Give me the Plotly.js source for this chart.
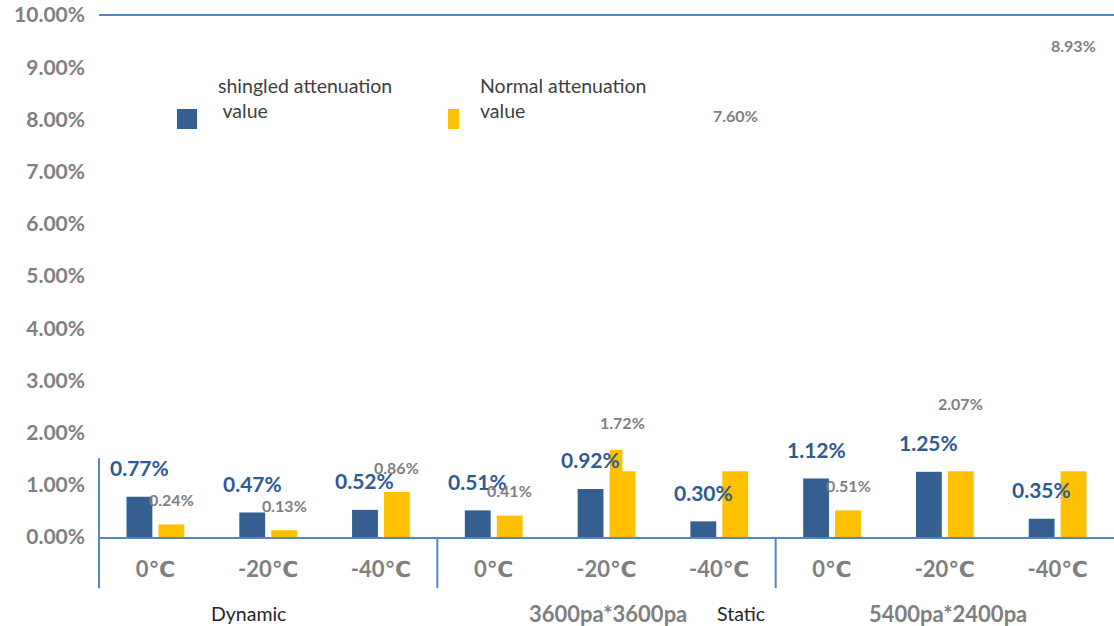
<!DOCTYPE html>
<html>
<head>
<meta charset="utf-8">
<script src="https://cdn.plot.ly/plotly-3.0.1.min.js"></script>
<style>
  html, body { margin: 0; padding: 0; background: #ffffff; }
  #chart { width: 1114px; height: 626px; }
</style>
</head>
<body>
<div id="chart"></div>
<script>
// categories (temperatures, 3 per test group)
const temps = ['0℃', '-20℃', '-40℃', '0℃', '-20℃', '-40℃', '0℃', '-20℃', '-40℃'];
const groupLabels = ['Dynamic', '3600pa*3600pa', 'Static', '5400pa*2400pa'];

// series values (%)
const shingled = [0.77, 0.47, 0.52, 0.51, 0.92, 0.30, 1.12, 1.25, 0.35];
const normal = [0.24, 0.13, 0.86, 0.41, 1.72, 7.60, 0.51, 2.07, 8.93];

const seriesNames = ['shingled attenuation<br>\u00a0value', 'Normal attenuation<br>value'];

// styling
const BLUE = '#365f91';
const YELLOW = '#ffc000';
const AXIS = '#5585c5';
const GREY = '#7f7f7f';
const FONT = 'Lato, "DejaVu Sans", sans-serif';

const bargap = 0.434;
const bargroupgap = 0.19;
const barOff = (1 - bargap) / 4;        // distance from category centre to bar centre
const barHalf = (1 - bargap) / 2 * (1 - bargroupgap) / 2;
const clipAt = 1.26;                    // the original picture hides bar parts above this

const xs = temps.map((_, i) => i);

const traces = [
    { type: 'bar', x: xs, y: shingled, name: 'shingled', marker: { color: BLUE }, hoverinfo: 'skip' },
    { type: 'bar', x: xs, y: normal, name: 'normal', marker: { color: YELLOW }, hoverinfo: 'skip' }
];

const annotations = [];
shingled.forEach((v, i) => {
    annotations.push({
        x: i - barOff, y: v, xref: 'x', yref: 'y', yanchor: 'middle', yshift: 29,
        text: v.toFixed(2) + '%', showarrow: false,
        font: { family: FONT, size: 21, color: '#2f5a93', weight: 'bold' }
    });
});
normal.forEach((v, i) => {
    annotations.push({
        x: i + barOff, y: v, xref: 'x', yref: 'y', yanchor: 'middle', yshift: 25,
        text: v.toFixed(2) + '%', showarrow: false,
        font: { family: FONT, size: 16, color: GREY, weight: 'bold' }
    });
});

// group labels under the axis
const groupX = [0.83, 4.01, 5.19, 7.03];
const groupStyle = [
    { size: 19.5, color: '#262626', weight: 'normal' },
    { size: 22, color: GREY, weight: 'bold' },
    { size: 19.5, color: '#262626', weight: 'normal' },
    { size: 22, color: GREY, weight: 'bold' }
];
groupLabels.forEach((t, i) => {
    annotations.push({
        x: groupX[i], y: -0.146, xref: 'x', yref: 'paper', yanchor: 'middle',
        text: t, showarrow: false,
        font: Object.assign({ family: FONT }, groupStyle[i])
    });
});

// legend text
[0.1153, 0.3734].forEach((px, i) => {
    annotations.push({
        x: px, y: 0.841, xref: 'paper', yref: 'paper', xanchor: 'left', yanchor: 'middle',
        text: seriesNames[i], align: 'left', showarrow: false,
        font: { family: FONT, size: 19.5, color: '#404040' }
    });
});

const shapes = [
    // white masks (as in the original picture)
    { type: 'rect', layer: 'above', xref: 'x', yref: 'y', x0: -0.7, x1: 4 + barOff - barHalf + 0.003, y0: clipAt, y1: 9.9, fillcolor: '#ffffff', line: { width: 0 } },
    { type: 'rect', layer: 'above', xref: 'x', yref: 'y', x0: 4 + barOff - barHalf - 0.003, x1: 4 + barOff + 0.003, y0: 1.67, y1: 9.9, fillcolor: '#ffffff', line: { width: 0 } },
    { type: 'rect', layer: 'above', xref: 'x', yref: 'y', x0: 4 + barOff, x1: 8.7, y0: clipAt, y1: 9.9, fillcolor: '#ffffff', line: { width: 0 } },
    // top line at 10%
    { type: 'line', layer: 'above', xref: 'paper', yref: 'paper', x0: 0, x1: 1, y0: 1, y1: 1, line: { color: AXIS, width: 2 } },
    // left axis piece and group separators
    { type: 'line', layer: 'above', xref: 'paper', yref: 'paper', x0: 0, x1: 0, y0: 0.151, y1: -0.098, line: { color: AXIS, width: 2 } },
    { type: 'line', layer: 'above', xref: 'paper', yref: 'paper', x0: 3 / 9, x1: 3 / 9, y0: 0, y1: -0.098, line: { color: AXIS, width: 2 } },
    { type: 'line', layer: 'above', xref: 'paper', yref: 'paper', x0: 6 / 9, x1: 6 / 9, y0: 0, y1: -0.098, line: { color: AXIS, width: 2 } },
    // legend markers
    { type: 'rect', layer: 'above', xref: 'paper', yref: 'paper', x0: 0.0768, x1: 0.0966, y0: 0.7816, y1: 0.8199, fillcolor: BLUE, line: { width: 0 } },
    { type: 'rect', layer: 'above', xref: 'paper', yref: 'paper', x0: 0.3438, x1: 0.3547, y0: 0.7816, y1: 0.8199, fillcolor: YELLOW, line: { width: 0 } }
];

const layout = {
    width: 1114,
    height: 626,
    margin: { l: 99, r: 0, t: 15, b: 89 },
    paper_bgcolor: '#ffffff',
    plot_bgcolor: '#ffffff',
    font: { family: FONT },
    showlegend: false,
    barmode: 'group',
    bargap: bargap,
    bargroupgap: bargroupgap,
    xaxis: {
        range: [-0.5, 8.5],
        tickmode: 'array',
        tickvals: xs,
        ticktext: temps,
        ticks: '',
        showgrid: false,
        zeroline: false,
        showline: true,
        linecolor: AXIS,
        linewidth: 2,
        ticklabelstandoff: 12,
        tickfont: { family: FONT, size: 22, color: GREY, weight: 'bold' }
    },
    yaxis: {
        range: [0, 10],
        dtick: 1,
        tickformat: '.2f',
        ticksuffix: '%',
        ticks: '',
        showgrid: false,
        zeroline: false,
        showline: false,
        ticklabelstandoff: 13,
        tickfont: { family: FONT, size: 21, color: GREY, weight: 'bold' }
    },
    annotations: annotations,
    shapes: shapes
};

Plotly.newPlot('chart', traces, layout, { displayModeBar: false, staticPlot: true });
</script>
</body>
</html>
